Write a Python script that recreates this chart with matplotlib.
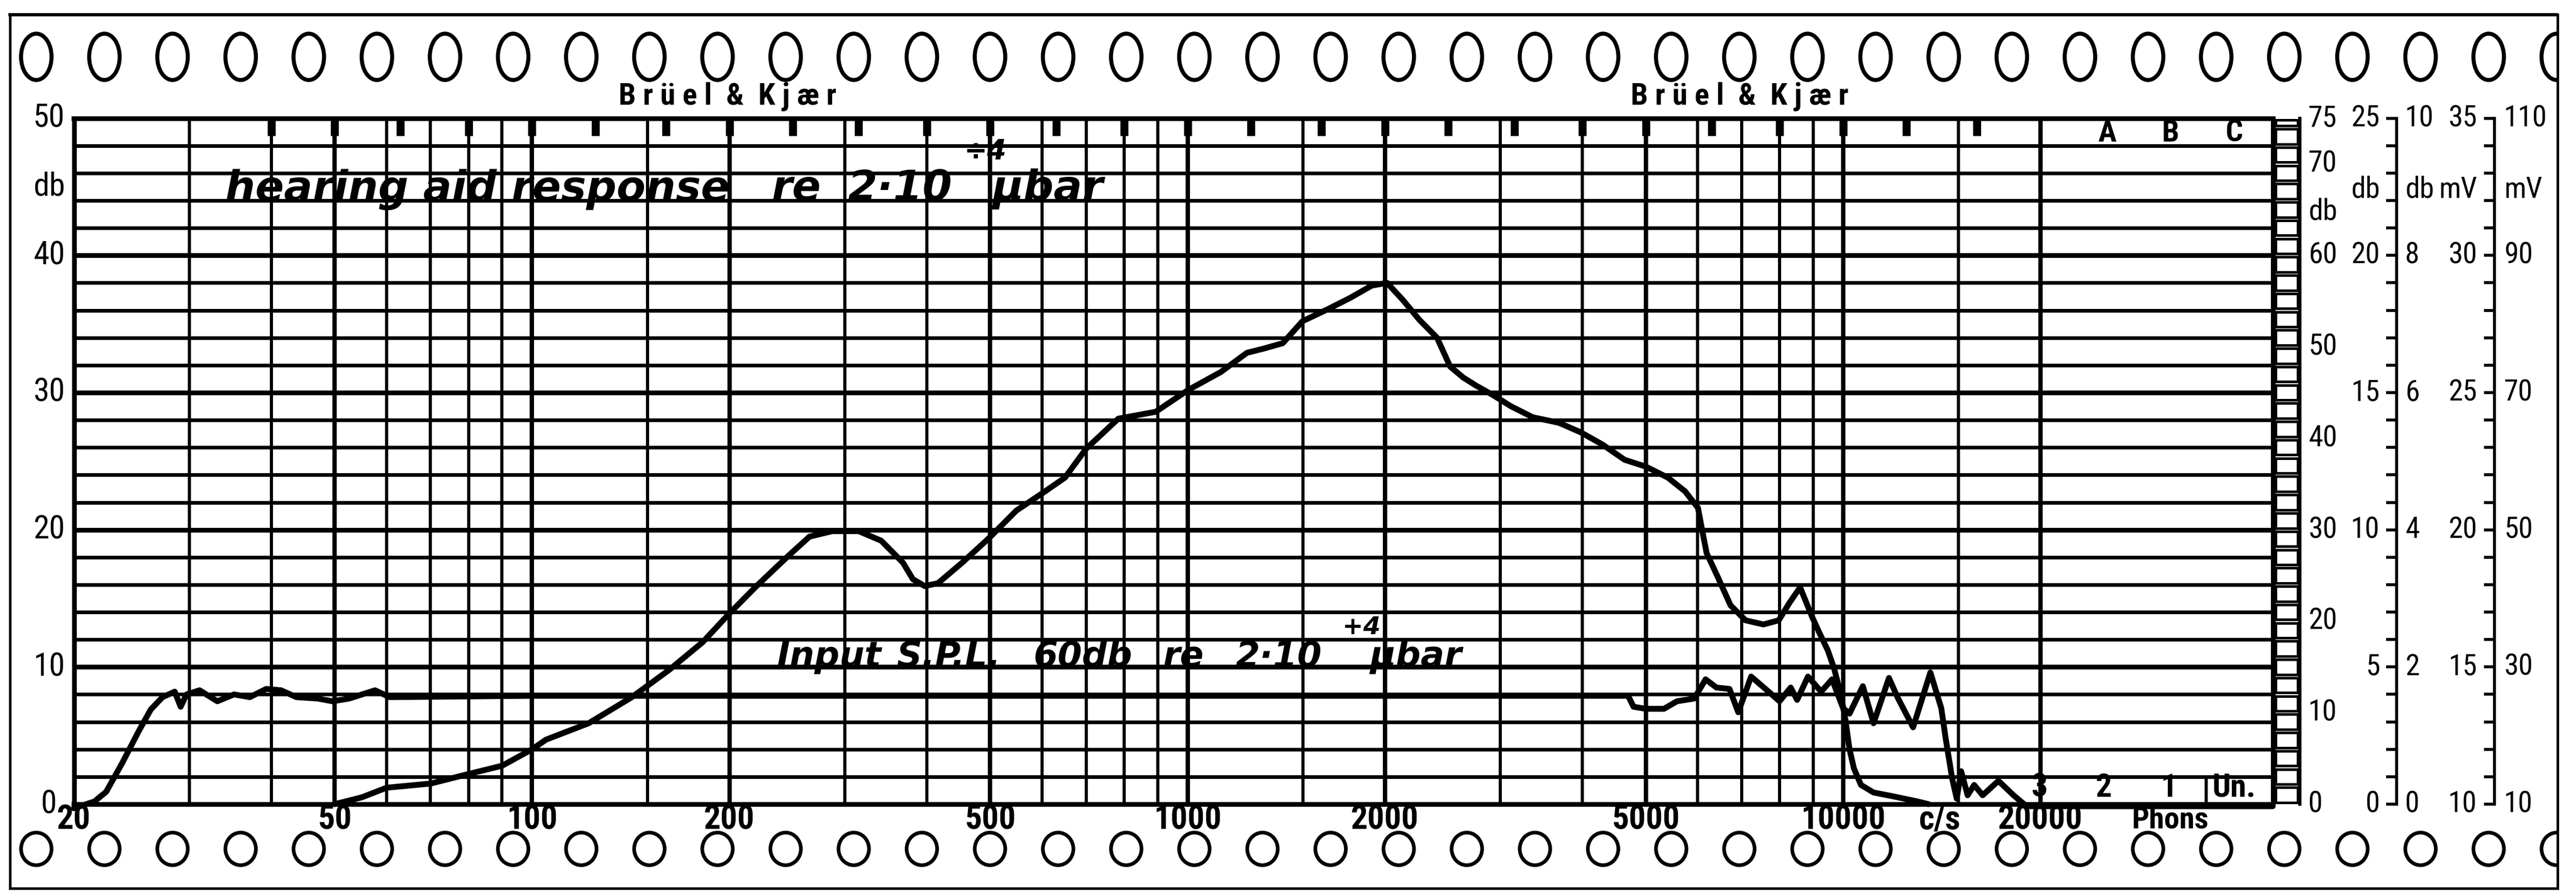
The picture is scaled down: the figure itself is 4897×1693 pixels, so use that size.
import numpy as np
import matplotlib
matplotlib.use('Agg')
import matplotlib.pyplot as plt
from matplotlib import transforms
from matplotlib.patches import Ellipse, Rectangle
from matplotlib.ticker import NullLocator
from matplotlib import font_manager as fm

# ---------------- data ----------------
input_freq = [20, 21.5, 22.4, 23.7, 25.1, 26.2, 27.3, 28.5, 29.1, 29.7, 31.1, 33.1, 35.1, 37.1,
              39.3, 41.4, 43.7, 47.1, 49.6, 52.6, 57.6, 60.6, 100, 1000, 4700, 4790, 5000,
              5330, 5580, 5930, 6170, 6410, 6710, 6920, 7240, 7700, 8000, 8320, 8510, 8840,
              9260, 9620, 10000, 10230, 10720, 11130, 11750, 12120, 12790, 13590, 14120,
              14350, 14680, 14910, 15140, 15490, 15850, 16330, 17260, 18200, 19050, 45240]
input_db = [-0.3, 0.2, 0.9, 3.0, 5.3, 6.9, 7.8, 8.2, 7.1, 8.0, 8.3, 7.5, 8.0, 7.8,
            8.4, 8.3, 7.8, 7.7, 7.5, 7.7, 8.3, 7.8, 7.9, 7.9, 7.9, 7.1, 6.95,
            6.95, 7.5, 7.7, 9.1, 8.5, 8.4, 6.7, 9.3, 8.2, 7.5, 8.5, 7.6, 9.3,
            8.2, 9.1, 7.0, 6.6, 8.6, 5.9, 9.2, 7.75, 5.6, 9.6, 7.0,
            4.7, 1.8, 0.4, 2.4, 0.65, 1.4, 0.65, 1.7, 0.65, -0.15, -0.15]

resp_freq = [50, 55, 60, 70, 80, 90, 100, 105, 122, 142, 162, 182, 200, 220, 246, 265, 287,
             315, 341, 368, 381, 397, 416, 453, 498, 548, 602, 650, 700, 784, 894, 1003,
             1124, 1232, 1305, 1397, 1497, 1640, 1770, 1910, 2015, 2126, 2258, 2402, 2515,
             2633, 2757, 2928, 3115, 3363, 3685, 3981, 4300, 4643, 5005, 5405, 5741, 6007,
             6100, 6193, 6434, 6734, 7100, 7560, 7977, 8290, 8600, 8980, 9200, 9480, 9690,
             9920, 10080, 10230, 10390, 10650, 11130, 11840, 12980, 13500]
resp_db = [0.0, 0.5, 1.2, 1.5, 2.2, 2.8, 4.0, 4.7, 5.9, 7.8, 9.8, 11.8, 13.9, 15.9, 18.1, 19.5,
           19.9, 19.9, 19.2, 17.6, 16.4, 15.9, 16.1, 17.6, 19.4, 21.4, 22.7, 23.8, 25.9,
           28.1, 28.6, 30.2, 31.5, 32.9, 33.2, 33.6, 35.2, 36.1, 36.9, 37.8, 38.0, 36.8,
           35.3, 34.0, 31.9, 31.1, 30.5, 29.8, 29.0, 28.2, 27.8, 27.1, 26.2, 25.1, 24.6,
           23.8, 22.8, 21.6, 19.9, 18.3, 16.6, 14.5, 13.4, 13.1, 13.4, 14.7, 15.8, 13.6,
           12.5, 11.2, 9.9, 8.0, 6.2, 4.0, 2.6, 1.4, 0.85, 0.6, 0.2, 0.0]

grid_freqs = [20, 30, 40, 50, 60, 70, 80, 90, 100, 150, 200, 300, 400, 500, 600, 700, 800, 900,
              1000, 1500, 2000, 3000, 4000, 5000, 6000, 7000, 8000, 9000, 10000, 15000, 20000]
bold_freqs = [50, 100, 200, 500, 1000, 2000, 5000, 10000, 20000]
grid_levels = list(range(0, 51, 2))
xtick_freqs = [20, 50, 100, 200, 500, 1000, 2000, 5000, 10000, 20000]
xtick_labels = ['20', '50', '100', '200', '500', '1000', '2000', '5000', '10000', '20000']
mark_freqs = [40, 50, 63, 80, 100, 125, 160, 200, 250, 315, 400, 500, 630, 800, 1000, 1250,
              1600, 2000, 2500, 3150, 4000, 5000, 6300, 8000, 10000, 12500, 16000]
left_levels = [50, 40, 30, 20, 10, 0]
left_labels = ['50', '40', '30', '20', '10', '0']
abc_freqs = [25300, 31600, 39500]
abc_labels = ['A', 'B', 'C']
weight_freqs = [19940, 25000, 31400, 39500]
weight_labels = ['3', '2', '1', 'Un.']
scale75 = [75, 70, 60, 50, 40, 30, 20, 10, 0]
scale25 = [25, 20, 15, 10, 5, 0]
scale10 = [10, 8, 6, 4, 2, 0]
scale35 = [35, 30, 25, 20, 15, 10]
scale110 = [110, 90, 70, 50, 30, 10]

# ---------------- fonts ----------------
entries = fm.fontManager.ttflist
names = {f.name for f in entries}
NARROW = None
for cand in ['Liberation Sans Narrow', 'Roboto Condensed', 'Open Sans Condensed',
             'Noto Sans Condensed', 'DejaVu Sans Condensed']:
    if cand in names:
        NARROW = dict(family=cand)
        break
if NARROW is None:
    extra = sorted(n for n in names if ('Narrow' in n or 'Condensed' in n))
    if extra:
        NARROW = dict(family=extra[0])
if NARROW is None:
    if any(f.name == 'DejaVu Sans' and str(f.stretch) in ('condensed', 'semi-condensed')
           for f in entries):
        NARROW = dict(family='DejaVu Sans', stretch='condensed')
if NARROW is None:
    NARROW = dict(family='DejaVu Sans')
    K = 0.9
else:
    K = 1.0
HAND = dict(family='DejaVu Sans', style='italic', fontweight='bold')

# ---------------- figure ----------------
W, H, DPI = 4897, 1693, 100
fig = plt.figure(figsize=(W / DPI, H / DPI), dpi=DPI, facecolor='white')
bg = fig.add_axes([0, 0, 1, 1])
bg.set_xlim(0, W)
bg.set_ylim(H, 0)
bg.axis('off')

L, R, T, B = 140.5, 4320.5, 224.6, 1528.0
XMAX = 45240
ax = fig.add_axes([L / W, 1 - B / H, (R - L) / W, (B - T) / H])
ax.set_xscale('log')
ax.set_xlim(20, XMAX)
ax.set_ylim(0, 50)
ax.xaxis.set_major_locator(NullLocator())
ax.xaxis.set_minor_locator(NullLocator())
ax.yaxis.set_major_locator(NullLocator())
ax.yaxis.set_minor_locator(NullLocator())
ax.patch.set_alpha(0)
for s in ax.spines.values():
    s.set_linewidth(6.5)

tr_r = transforms.blended_transform_factory(bg.transData, ax.transData)
tr_b = transforms.blended_transform_factory(ax.transData, bg.transData)

# paper border and sprocket holes
bg.plot([19, 4862], [28, 28], color='k', lw=4.5)
bg.plot([19, 19], [28, 1688], color='k', lw=3.5)
bg.plot([19, 4862], [1688, 1688], color='k', lw=3.5)
for x in 69 + 129.5 * np.arange(38):
    bg.add_patch(Ellipse((x, 108), 58, 88, fill=False, lw=5.5, ec='k'))
    bg.add_patch(Ellipse((x, 1613), 58, 62, fill=False, lw=5.0, ec='k'))
bg.add_patch(Rectangle((4863, 0), 60, H, fc='white', ec='none', zorder=5))
bg.plot([4862, 4862], [28, 1688], color='k', lw=3.5, zorder=6)

for xc in (1383, 3307):
    bg.text(xc, 183, 'B r ü e l  &  K j æ r', ha='center', va='center',
            fontsize=42 * K, fontweight='bold', **NARROW)

# grid
ax.hlines(grid_levels, 20, XMAX, colors='k',
          lw=[6.5 if l % 10 == 0 else 5.0 for l in grid_levels], zorder=1)
ax.vlines(grid_freqs, 0, 50, colors='k',
          lw=[6.0 if f in bold_freqs else 4.3 for f in grid_freqs], zorder=1)
ax.vlines(mark_freqs, 50 - 33 / 26.07, 50, colors='k', lw=11, zorder=2)
ax.vlines([35820], 0, 2, colors='k', lw=4.3, zorder=1)

# right box strip
bg.plot([4372, 4372], [T, B], color='k', lw=4.5, zorder=2)
for v in range(0, 75, 2):
    top = min(v + 2, 75)
    y0 = v / 1.5 + 0.12
    hgt = (top - v) / 1.5 - 0.24
    bg.add_patch(Rectangle((4326, y0), 42, hgt, transform=tr_r, fill=False,
                           ec='k', lw=3.6, zorder=2))

# curves
ax.plot(input_freq, input_db, color='k', lw=8, solid_joinstyle='round',
        solid_capstyle='round', clip_on=False, zorder=3)
ax.plot(resp_freq, resp_db, color='k', lw=8, solid_joinstyle='round',
        solid_capstyle='round', clip_on=False, zorder=3)

# handwritten annotations
ax.text(34, 44, 'hearing aid response', fontsize=58, va='baseline', **HAND)
ax.text(232, 44, 're', fontsize=58, va='baseline', **HAND)
ax.text(303, 44, '2·10', fontsize=58, va='baseline', **HAND)
ax.text(456, 47.0, '÷4', fontsize=38, va='baseline', **HAND)
ax.text(503, 44, 'µbar', fontsize=58, va='baseline', **HAND)

ax.text(236, 10, 'Input', fontsize=48, va='baseline', **HAND)
ax.text(360, 10, 'S.P.L.', fontsize=48, va='baseline', **HAND)
ax.text(582, 10, '60db', fontsize=48, va='baseline', **HAND)
ax.text(918, 10, 're', fontsize=48, va='baseline', **HAND)
ax.text(1183, 10, '2·10', fontsize=48, va='baseline', **HAND)
ax.text(1722, 12.4, '+4', fontsize=34, va='baseline', **HAND)
ax.text(1900, 10, 'µbar', fontsize=48, va='baseline', **HAND)

# left labels
for lv, lb in zip(left_levels, left_labels):
    bg.text(93, lv, lb, transform=tr_r, ha='center', va='center', fontsize=44 * K, **NARROW)
bg.text(93, 45, 'db', transform=tr_r, ha='center', va='center', fontsize=44 * K, **NARROW)

# bottom labels
for f, lb in zip(xtick_freqs, xtick_labels):
    bg.text(f, 1558, lb, transform=tr_b, ha='center', va='center', fontsize=46 * K,
            fontweight='bold', **NARROW)
bg.text(3687, 1558, 'c/s', ha='center', va='center', fontsize=46 * K, fontweight='bold', **NARROW)
bg.text(4126, 1558, 'Phons', ha='center', va='center', fontsize=42 * K, fontweight='bold', **NARROW)

for f, lb in zip(abc_freqs, abc_labels):
    ax.text(f, 48.9, lb, ha='center', va='center', fontsize=42 * K, fontweight='bold', **NARROW)
for f, lb in zip(weight_freqs, weight_labels):
    ax.text(f, 1.2, lb, ha='center', va='center', fontsize=44 * K, fontweight='bold', **NARROW)

# right scales
RFS = 40 * K
for v in scale75:
    bg.text(4388, v / 1.5, str(v), transform=tr_r, ha='left', va='center', fontsize=RFS, **NARROW)
bg.text(4388, 43.2, 'db', transform=tr_r, ha='left', va='center', fontsize=RFS, **NARROW)

for xa in (4556, 4742):
    bg.plot([xa, xa], [0, 50], transform=tr_r, color='k', lw=4)
    bg.hlines(grid_levels, xa - 20, xa, transform=tr_r, colors='k', lw=4)

for v in scale25:
    bg.text(4524, v * 2, str(v), transform=tr_r, ha='right', va='center', fontsize=RFS, **NARROW)
bg.text(4524, 44.8, 'db', transform=tr_r, ha='right', va='center', fontsize=RFS, **NARROW)
for v in scale10:
    bg.text(4572, v * 5, str(v), transform=tr_r, ha='left', va='center', fontsize=RFS, **NARROW)
bg.text(4572, 44.8, 'db', transform=tr_r, ha='left', va='center', fontsize=RFS, **NARROW)
for v in scale35:
    bg.text(4709, (v - 10) * 2, str(v), transform=tr_r, ha='right', va='center', fontsize=RFS, **NARROW)
bg.text(4709, 44.8, 'mV', transform=tr_r, ha='right', va='center', fontsize=RFS, **NARROW)
for v in scale110:
    bg.text(4760, (v - 10) / 2, str(v), transform=tr_r, ha='left', va='center', fontsize=RFS, **NARROW)
bg.text(4760, 44.8, 'mV', transform=tr_r, ha='left', va='center', fontsize=RFS, **NARROW)

fig.savefig('out.png', dpi=DPI, facecolor='white')
